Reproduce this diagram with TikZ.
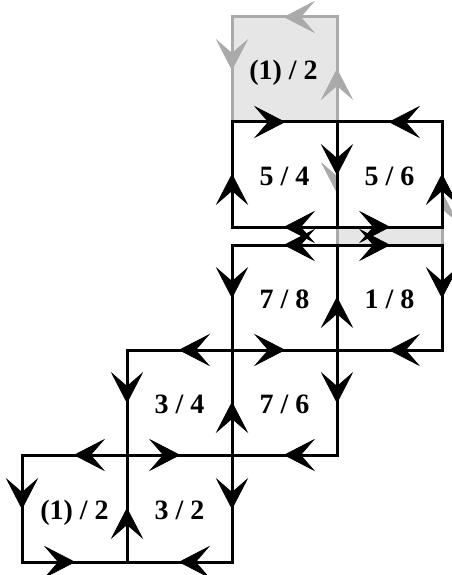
\documentclass[tikz,border=0pt]{standalone}
\usepackage{fontspec}
\setmainfont{Liberation Serif}
\usetikzlibrary{decorations.markings}
\definecolor{gfill}{HTML}{E6E6E6}
\definecolor{gline}{HTML}{AAAAAA}
\tikzset{
  arredge/.style={line width=3pt, line cap=rect, draw=#1, postaction={decorate},
    decoration={markings, mark=at position 0.5 with {\filldraw[#1, line width=0.8pt, line join=miter] (0pt,0pt) -- (-29pt,15pt) -- (-16pt,0pt) -- (-29pt,-15pt) -- cycle;}}},
  bl/.style={arredge=black},
  gr/.style={arredge=gline},
  plaingray/.style={line width=3pt, line cap=rect, draw=gline},
  lab/.style={font=\bfseries\fontsize{28}{28}\selectfont, inner sep=0pt, text=black, anchor=base},
}
\begin{document}
\begin{tikzpicture}[x=1pt,y=-1pt]
\useasboundingbox (0,0) rectangle (451,575);
% coordinates
\coordinate (g1) at (232,17);  \coordinate (g2) at (337,17);
\coordinate (g3) at (232,122); \coordinate (g4) at (337,122);
\coordinate (a1) at (232,122); \coordinate (a2) at (337,122); \coordinate (a3) at (442,122);
\coordinate (a4) at (232,227); \coordinate (a5) at (337,227); \coordinate (a6) at (442,227);
\coordinate (h1) at (337,140); \coordinate (h2) at (442,140);
\coordinate (h3) at (337,245); \coordinate (h4) at (442,245);
\coordinate (b1) at (232,245); \coordinate (b2) at (337,245); \coordinate (b3) at (442,245);
\coordinate (b4) at (232,350); \coordinate (b5) at (337,350); \coordinate (b6) at (442,350);
\coordinate (c1) at (127,350); \coordinate (c4) at (127,455); \coordinate (c5) at (232,455); \coordinate (c6) at (337,455);
\coordinate (d1) at (22,455); \coordinate (d4) at (22,562); \coordinate (d5) at (127,562); \coordinate (d6) at (232,562);
% gray top square
\fill[gfill] (g1) rectangle (g4);
\draw[plaingray] (g3) -- (g4);
\draw[gr] (g2) -- (g1);
\draw[gr] (g1) -- (g3);
\draw[gr] (g4) -- (g2);
% hidden gray square
\fill[gfill] (h1) rectangle (h4);
\draw[plaingray] (h1) -- (h2);
\draw[plaingray] (h3) -- (h4);
\draw[gr] (h1) -- (h3);
\draw[gr] (h4) -- (h2);
\fill[white] (a2) rectangle (a6);
% row A
\draw[bl] (a1) -- (a2);
\draw[bl] (a3) -- (a2);
\draw[bl] (a4) -- (a1);
\draw[bl] (a2) -- (a5);
\draw[bl] (a6) -- (a3);
\draw[bl] (a5) -- (a4);
\draw[bl] (a5) -- (a6);
% row B
\draw[bl] (b2) -- (b1);
\draw[bl] (b2) -- (b3);
\draw[bl] (b1) -- (b4);
\draw[bl] (b5) -- (b2);
\draw[bl] (b3) -- (b6);
\draw[bl] (b4) -- (b5);
\draw[bl] (b6) -- (b5);
% row C
\draw[bl] (b4) -- (c1);
\draw[bl] (c1) -- (c4);
\draw[bl] (c5) -- (b4);
\draw[bl] (b5) -- (c6);
\draw[bl] (c4) -- (c5);
\draw[bl] (c6) -- (c5);
% row D
\draw[bl] (c4) -- (d1);
\draw[bl] (d1) -- (d4);
\draw[bl] (d5) -- (c4);
\draw[bl] (c5) -- (d6);
\draw[bl] (d4) -- (d5);
\draw[bl] (d6) -- (d5);
% labels
\node[lab] (l0) at (283.5,79.5) {(1) / 2};
\node[lab] (l1) at (284.5,185) {5 / 4};
\node[lab] (l2) at (389.5,185) {5 / 6};
\node[lab] (l3) at (284.5,308.5) {7 / 8};
\node[lab] (l4) at (389.5,308.5) {1 / 8};
\node[lab] (l5) at (179.5,413) {3 / 4};
\node[lab] (l6) at (284.5,413) {7 / 6};
\node[lab] (l7) at (74.5,519) {(1) / 2};
\node[lab] (l8) at (179.5,519) {3 / 2};
\end{tikzpicture}
\end{document}
